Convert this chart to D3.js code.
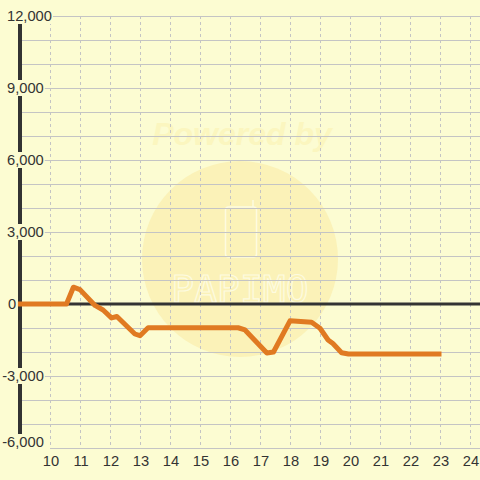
<!DOCTYPE html>
<html>
<head>
<meta charset="utf-8">
<script src="https://cdn.jsdelivr.net/npm/d3@7"></script>
<style>
  html, body { margin: 0; padding: 0; background: #fcfcd2; }
  svg { display: block; font-family: "Liberation Sans", Arial, sans-serif; }
</style>
</head>
<body>
<div id="chart"></div>
<script>
// series (hour of day -> balance)
var hours = [8.93, 10.55, 10.78, 11, 11.5, 11.77, 12.05, 12.23, 12.83, 13, 13.27, 16.27, 16.5, 17.23, 17.45, 18, 18.72, 19, 19.27, 19.43, 19.72, 19.95, 23.05];
var balance = [0, 0, 700, 600, -60, -250, -580, -520, -1250, -1320, -990, -990, -1080, -2040, -2000, -700, -760, -1010, -1500, -1650, -2030, -2080, -2080];

var xTicks = [10, 11, 12, 13, 14, 15, 16, 17, 18, 19, 20, 21, 22, 23, 24];
var yLabels = [12000, 9000, 6000, 3000, 0, -3000, -6000];
var yGrid = d3.range(-6000, 12001, 1000);

var width = 480, height = 480;
var bg = "#fcfcd2";

var x = d3.scaleLinear().domain([10, 24]).range([50, 470]);
var y = d3.scaleLinear().domain([-6000, 12000]).range([448, 16]);

var svg = d3.select("#chart").append("svg")
    .attr("width", width)
    .attr("height", height);

svg.append("rect").attr("width", width).attr("height", height).attr("fill", bg);

// watermark
var wm = svg.append("g");
wm.append("text")
    .attr("x", 242).attr("y", 145)
    .attr("text-anchor", "middle")
    .attr("font-size", 32).attr("font-weight", "bold").attr("font-style", "italic")
    .attr("fill", "#fbf6bf")
    .text("Powered by");
wm.append("circle")
    .attr("cx", 240).attr("cy", 259).attr("r", 98)
    .attr("fill", "#fbf2b8");
wm.append("rect")
    .attr("x", 225.5).attr("y", 207).attr("width", 31).attr("height", 50).attr("rx", 3)
    .attr("fill", "none").attr("stroke", "#fdfbe0").attr("stroke-width", 1.5);
wm.append("line")
    .attr("x1", 253).attr("x2", 253).attr("y1", 200).attr("y2", 207)
    .attr("stroke", "#fdfbe0").attr("stroke-width", 1.5);
wm.append("text")
    .attr("x", 240).attr("y", 302)
    .attr("text-anchor", "middle")
    .attr("font-family", "DejaVu Sans Mono, monospace")
    .attr("font-size", 38)
    .attr("fill", "none").attr("stroke", "#fdfbe0").attr("stroke-width", 1.2)
    .text("PAPIMO");

// grid
svg.append("g").selectAll("line")
    .data(yGrid)
    .enter().append("line")
    .attr("x1", function(d) { return d === -6000 ? 50 : 20; })
    .attr("x2", width)
    .attr("y1", function(d) { return y(d) + 0.5; })
    .attr("y2", function(d) { return y(d) + 0.5; })
    .attr("stroke", "#c4c4c4")
    .attr("stroke-width", 1);

svg.append("g").selectAll("line")
    .data(xTicks)
    .enter().append("line")
    .attr("x1", function(d) { return x(d) + 0.5; })
    .attr("x2", function(d) { return x(d) + 0.5; })
    .attr("y1", 16)
    .attr("y2", 448)
    .attr("stroke", "#c4c4c4")
    .attr("stroke-width", 1)
    .attr("stroke-dasharray", "3,3");

// zero line and y axis
svg.append("line")
    .attr("x1", 20).attr("x2", width)
    .attr("y1", y(0)).attr("y2", y(0))
    .attr("stroke", "#333").attr("stroke-width", 3);
svg.append("line")
    .attr("x1", 20).attr("x2", 20)
    .attr("y1", 16).attr("y2", 436)
    .attr("stroke", "#333").attr("stroke-width", 4);

// y labels with background boxes (bottom one nudged up to clear the x labels)
var fmt = d3.format(",");
var yl = svg.append("g").selectAll("g")
    .data(yLabels)
    .enter().append("g");
var ytext = yl.append("text")
    .attr("x", function(d) { return d === 0 ? 8 : 7; })
    .attr("dx", function(d) { return d < 0 ? -4.8 : 0; })
    .attr("y", function(d) { return Math.min(y(d) + 5, 447); })
    .attr("font-size", 14.7)
    .attr("fill", "#333")
    .text(function(d) { return d < 0 ? "-" + fmt(-d) : fmt(d); });
ytext.each(function() {
    var b = this.getBBox();
    d3.select(this.parentNode).insert("rect", "text")
        .attr("x", b.x - 1).attr("y", b.y)
        .attr("width", b.width + 2).attr("height", b.height)
        .attr("fill", bg);
});

// x labels
svg.append("g").selectAll("text")
    .data(xTicks)
    .enter().append("text")
    .attr("x", function(d) { return x(d) + 1; })
    .attr("y", 466)
    .attr("text-anchor", "middle")
    .attr("font-size", 14.7)
    .attr("fill", "#333")
    .text(function(d) { return d; });

// series
var pts = hours.map(function(h, i) { return [h, balance[i]]; });
var line = d3.line()
    .x(function(d) { return x(d[0]); })
    .y(function(d) { return y(d[1]); });
svg.append("path")
    .attr("d", line(pts))
    .attr("fill", "none")
    .attr("stroke", "#e07a22")
    .attr("stroke-width", 5)
    .attr("stroke-linejoin", "round");
</script>
</body>
</html>
